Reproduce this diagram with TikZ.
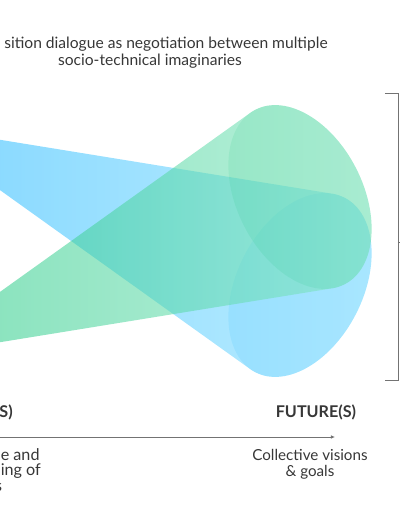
\documentclass[tikz,border=0pt]{standalone}
\usepackage{fontspec}
\setmainfont{Lato}
\usetikzlibrary{arrows.meta,positioning}
\definecolor{txtgray}{RGB}{55,55,55}
\definecolor{linegray}{RGB}{115,115,115}
\definecolor{blueL}{RGB}{24,180,255}
\definecolor{blueR}{RGB}{136,224,255}
\definecolor{greenL}{RGB}{24,198,125}
\definecolor{greenR}{RGB}{136,231,195}

\begin{document}
\begin{tikzpicture}[x=0.025cm, y=0.025cm,
    ttl/.style={font=\fontsize{11.1}{13}\selectfont, text=txtgray, inner sep=0pt},
    lbl/.style={font=\fontsize{10.8}{11.4}\selectfont, text=txtgray, inner sep=0pt, align=center},
    cut/.style={font=\fontsize{11.5}{13}\selectfont, text=txtgray, inner sep=0pt},
    hdr/.style={font=\fontsize{11.5}{13}\selectfont\bfseries, text=txtgray, inner sep=0pt},
    beam/.style={fill opacity=0.55},
    capfill/.style={fill opacity=0.12},
    brk/.style={linegray, line width=0.6pt},
    axis/.style={-{Latex[length=1mm, width=0.9mm]}, linegray, line width=0.6pt}]
\useasboundingbox (0,0) rectangle (400,516);
\clip (0,0) rectangle (400,516);

% beam apexes and tangent points on the caps
\coordinate (ba) at (-91,391);
\coordinate (ga) at (-91,159);
\begin{scope}[shift={(300,231)}, rotate=-27]
  \coordinate (bt) at (101.64:63 and 98);
  \coordinate (bb) at (264.46:63 and 98);
\end{scope}
\begin{scope}[shift={(300,319)}, rotate=27]
  \coordinate (gt) at (95.54:63 and 98);
  \coordinate (gb) at (258.36:63 and 98);
\end{scope}

% blue beam
\shade[beam, left color=blueL, right color=blueR] (ba) -- (bb) -- (bt) -- cycle
  {[rotate around={-27:(300,231)}] (300,231) ellipse [x radius=63, y radius=98]};
\fill[capfill, blueL, rotate around={-27:(300,231)}] (300,231) ellipse [x radius=63, y radius=98];
% green beam
\shade[beam, left color=greenL, right color=greenR] (ga) -- (gb) -- (gt) -- cycle
  {[rotate around={27:(300,319)}] (300,319) ellipse [x radius=63, y radius=98]};
\fill[capfill, greenL, rotate around={27:(300,319)}] (300,319) ellipse [x radius=63, y radius=98];

% title
\node[ttl, anchor=base west] (ttl1) at (4,468) {sition dialogue as negotiation between multiple};
\node[ttl, anchor=base] (ttl2) at (150,450) {socio-technical imaginaries};

% bracket
\draw[brk] (385,423) -- (398,423) -- (398,136) -- (385,136);
\draw[brk] (398,274) -- (403,274);

% time axis
\coordinate (axl) at (-5,79);
\coordinate (axr) at (335,79);
\draw[axis] (axl) -- (axr);
\node[hdr] (fut) at (316,104) {FUTURE(S)};
\node[hdr, anchor=east] (pst) at (13,104) {S)};
\node[lbl] (goal) at (310,51.5) {Collective visions\\\& goals};
\node[cut, anchor=base west] (prs1) at (0.5,56) {e and};
\node[cut, anchor=base west] (prs2) at (0.5,41) {ing of};
\node[cut, anchor=base east] (prs3) at (2.5,25) {s};
\end{tikzpicture}
\end{document}
